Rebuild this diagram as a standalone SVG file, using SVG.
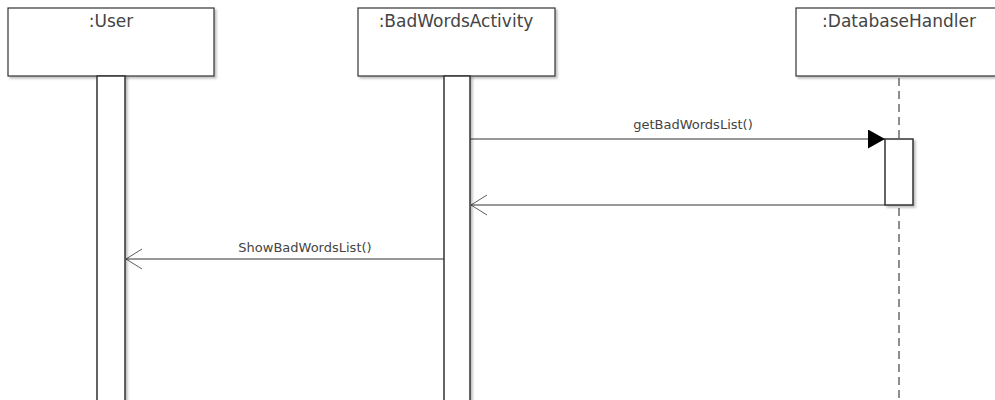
<svg xmlns="http://www.w3.org/2000/svg" width="995" height="400" viewBox="0 0 995 400">
  <defs>
    <filter id="shadow" x="-10%" y="-10%" width="130%" height="130%">
      <feDropShadow dx="2" dy="2" stdDeviation="1" flood-color="#000" flood-opacity="0.25"/>
    </filter>
    <marker id="filled" markerWidth="18" markerHeight="20" refX="17" refY="9.5" orient="auto" markerUnits="userSpaceOnUse">
      <polygon points="0,0 17,9.5 0,19" fill="#000"/>
    </marker>
    <marker id="open" markerWidth="18" markerHeight="22" refX="16" refY="11" orient="auto" markerUnits="userSpaceOnUse">
      <polyline points="0,1 16,11 0,21" fill="none" stroke="#333" stroke-width="0.8"/>
    </marker>
  </defs>
  <style>
    .head { fill: #fff; stroke: #333; stroke-width: 1.2; filter: url(#shadow); }
    .bar { fill: #fff; stroke: #333; stroke-width: 1.5; filter: url(#shadow); }
    .title { font-family: "DejaVu Sans", sans-serif; font-size: 17px; fill: #444; text-anchor: middle; }
    .label { font-family: "DejaVu Sans", sans-serif; font-size: 13px; fill: #444; text-anchor: middle; }
    .msg { stroke: #333; stroke-width: 1; fill: none; }
    .lifeline { stroke: #444; stroke-width: 1.2; stroke-dasharray: 8 5; }
  </style>
  <rect width="995" height="400" fill="#fff"/>

  <g id="user">
    <rect class="head" x="8" y="8" width="206" height="68"/>
    <text class="title" x="111" y="27">:User</text>
    <rect class="bar" x="97" y="76" width="28" height="330"/>
  </g>

  <g id="badWordsActivity">
    <rect class="head" x="358" y="8" width="197" height="68"/>
    <text class="title" x="456" y="27">:BadWordsActivity</text>
    <rect class="bar" x="444" y="76" width="26" height="330"/>
  </g>

  <g id="databaseHandler">
    <rect class="head" x="796" y="8" width="206" height="68"/>
    <text class="title" x="899" y="27">:DatabaseHandler</text>
    <line class="lifeline" x1="899" y1="78" x2="899" y2="400"/>
    <rect class="bar" x="885" y="139" width="28" height="66"/>
  </g>

  <g id="connectors">
    <line class="msg" x1="470" y1="139" x2="885" y2="139" marker-end="url(#filled)"/>
    <text class="label" x="693" y="129">getBadWordsList()</text>
    <line class="msg" x1="885" y1="205" x2="471" y2="205" marker-end="url(#open)"/>
    <line class="msg" x1="444" y1="259" x2="126" y2="259" marker-end="url(#open)"/>
    <text class="label" x="305" y="252">ShowBadWordsList()</text>
  </g>
</svg>
